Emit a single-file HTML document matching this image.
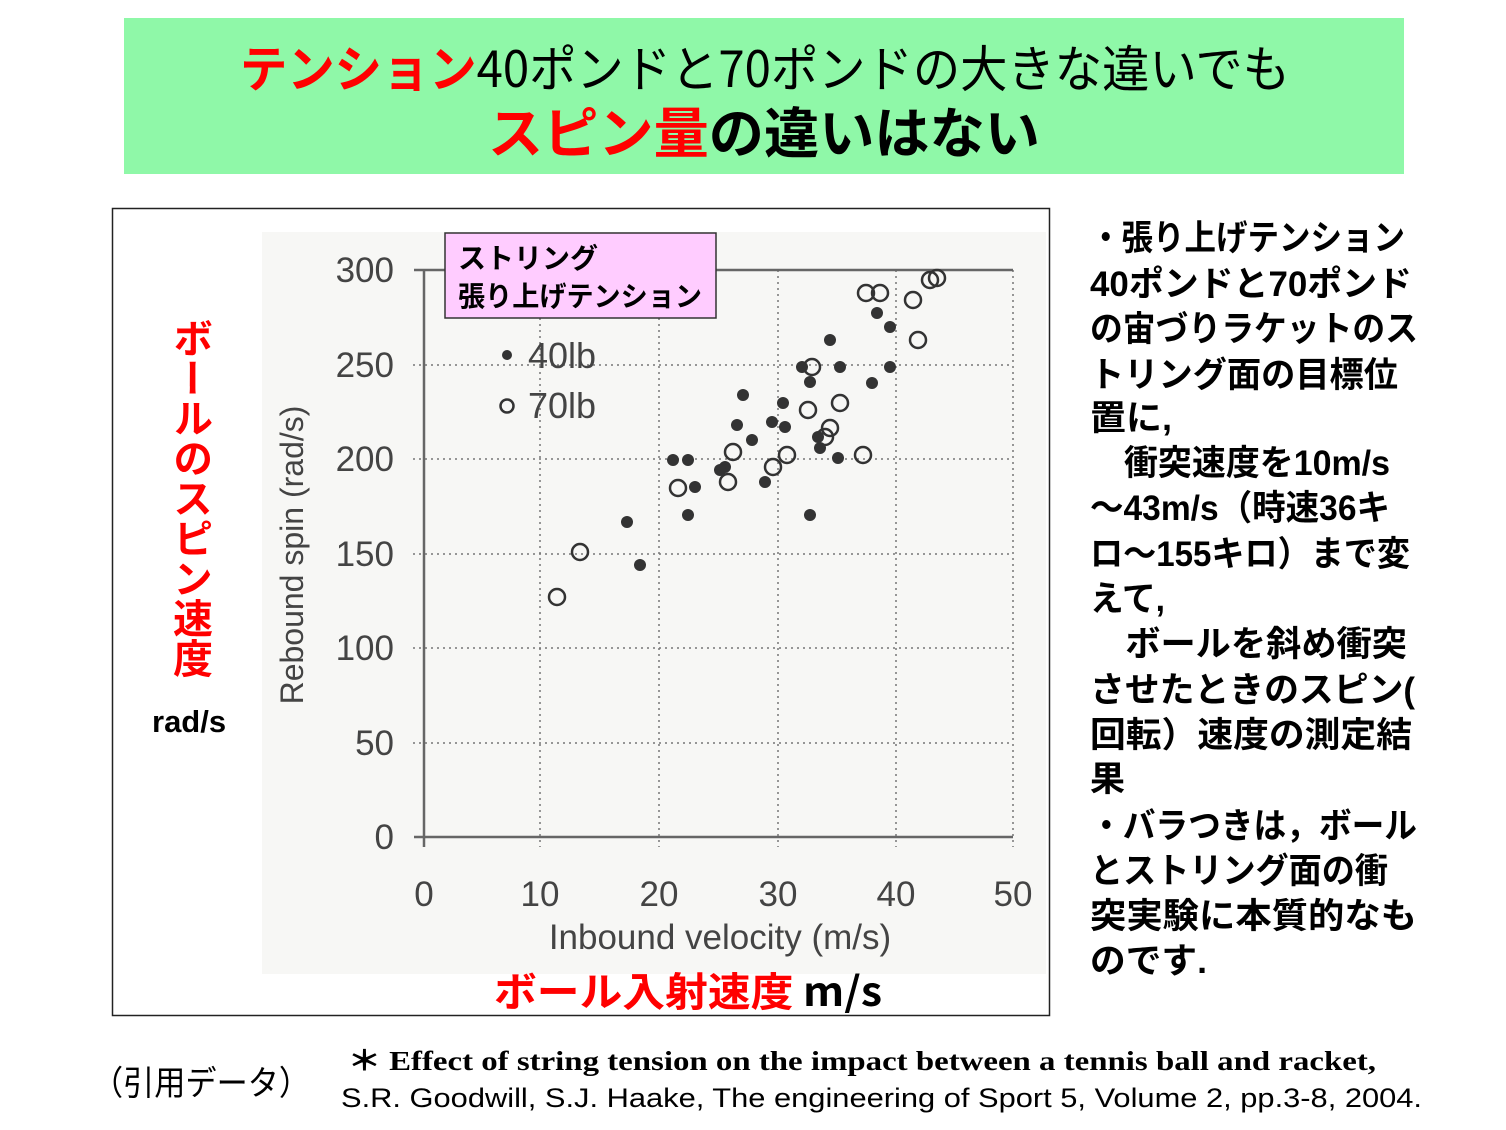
<!DOCTYPE html>
<html><head><meta charset="utf-8"><style>
html,body{margin:0;padding:0;background:#fff;}
svg{display:block;}
text{font-family:"Liberation Sans","Noto Sans CJK JP",sans-serif;}
.jp{font-family:"Noto Sans CJK JP","Liberation Sans",sans-serif;}
</style></head><body>
<svg width="1506" height="1130" viewBox="0 0 1506 1130" xmlns="http://www.w3.org/2000/svg">
<rect x="124" y="18" width="1280" height="156" fill="#8ff8a8"/>
<text x="240" y="87" font-size="50" class="jp" textLength="1050" lengthAdjust="spacingAndGlyphs"><tspan fill="#f00" font-weight="bold">テンション</tspan><tspan fill="#000">40ポンドと70ポンドの大きな違いでも</tspan></text>
<text x="488" y="153" font-size="55" class="jp" font-weight="bold" textLength="552" lengthAdjust="spacingAndGlyphs"><tspan fill="#f00">スピン量</tspan><tspan fill="#000">の違いはない</tspan></text>

<rect x="112.5" y="208.5" width="937" height="807" fill="#fff" stroke="#222" stroke-width="1.5"/>
<rect x="262" y="232" width="784" height="742" fill="#f7f7f5"/>
<g stroke="#777" stroke-width="1.5" stroke-dasharray="2,4">
<line x1="413" y1="365" x2="1013" y2="365"/>
<line x1="413" y1="459" x2="1013" y2="459"/>
<line x1="413" y1="554" x2="1013" y2="554"/>
<line x1="413" y1="648" x2="1013" y2="648"/>
<line x1="413" y1="743" x2="1013" y2="743"/>
<line x1="540" y1="270" x2="540" y2="847"/>
<line x1="659" y1="270" x2="659" y2="847"/>
<line x1="778" y1="270" x2="778" y2="847"/>
<line x1="896" y1="270" x2="896" y2="847"/>
<line x1="1013" y1="270" x2="1013" y2="847"/>
</g>
<g stroke="#666" stroke-width="2.5">
<line x1="424" y1="270" x2="424" y2="847"/>
<line x1="414" y1="837" x2="1013" y2="837"/>
<line x1="414" y1="270" x2="1013" y2="270"/>
</g>
<g fill="#444" font-size="35" text-anchor="end">
<text x="394" y="282">300</text><text x="394" y="377">250</text><text x="394" y="471">200</text>
<text x="394" y="566">150</text><text x="394" y="660">100</text><text x="394" y="755">50</text><text x="394" y="849">0</text>
</g>
<g fill="#444" font-size="35" text-anchor="middle">
<text x="424" y="906">0</text><text x="540" y="906">10</text><text x="659" y="906">20</text>
<text x="778" y="906">30</text><text x="896" y="906">40</text><text x="1013" y="906">50</text>
</g>
<text x="720" y="949" fill="#444" font-size="35" text-anchor="middle">Inbound velocity (m/s)</text>
<text transform="translate(303,555) rotate(-90)" fill="#444" font-size="32" text-anchor="middle">Rebound spin (rad/s)</text>

<rect x="445" y="233" width="271" height="85" fill="#ffccff" stroke="#333" stroke-width="1.5"/>
<text x="458" y="268" font-size="28" class="jp" font-weight="bold">ストリング</text>
<text x="458" y="306" font-size="28" class="jp" font-weight="bold" textLength="244" lengthAdjust="spacingAndGlyphs">張り上げテンション</text>

<circle cx="507" cy="355" r="5" fill="#333"/>
<text x="528" y="368" fill="#444" font-size="36">40lb</text>
<circle cx="507" cy="406" r="6.5" fill="none" stroke="#333" stroke-width="2.5"/>
<text x="528" y="418" fill="#444" font-size="36">70lb</text>

<g fill="#333">
<circle cx="830" cy="340" r="6"/><circle cx="877" cy="313" r="6"/><circle cx="890" cy="327" r="6"/>
<circle cx="840" cy="367" r="6"/><circle cx="802" cy="367" r="6"/><circle cx="810" cy="382" r="6"/>
<circle cx="890" cy="367" r="6"/><circle cx="872" cy="383" r="6"/><circle cx="743" cy="395" r="6"/>
<circle cx="783" cy="403" r="6"/><circle cx="737" cy="425" r="6"/><circle cx="772" cy="422" r="6"/>
<circle cx="785" cy="427" r="6"/><circle cx="752" cy="440" r="6"/><circle cx="818" cy="437" r="6"/>
<circle cx="820" cy="448" r="6"/><circle cx="838" cy="458" r="6"/><circle cx="725" cy="467" r="6"/>
<circle cx="673" cy="460" r="6"/><circle cx="688" cy="460" r="6"/><circle cx="695" cy="487" r="6"/>
<circle cx="765" cy="482" r="6"/><circle cx="688" cy="515" r="6"/><circle cx="810" cy="515" r="6"/>
<circle cx="627" cy="522" r="6"/><circle cx="640" cy="565" r="6"/><circle cx="720" cy="470" r="6"/>
</g>
<g fill="none" stroke="#333" stroke-width="2.5">
<circle cx="866" cy="293" r="8"/><circle cx="880" cy="293" r="8"/><circle cx="937" cy="278" r="8"/>
<circle cx="930" cy="280" r="8"/><circle cx="913" cy="300" r="8"/><circle cx="918" cy="340" r="8"/>
<circle cx="812" cy="367" r="8"/><circle cx="808" cy="410" r="8"/><circle cx="840" cy="403" r="8"/>
<circle cx="830" cy="428" r="8"/><circle cx="863" cy="455" r="8"/><circle cx="787" cy="455" r="8"/>
<circle cx="773" cy="467" r="8"/><circle cx="733" cy="452" r="8"/><circle cx="728" cy="482" r="8"/>
<circle cx="678" cy="488" r="8"/><circle cx="580" cy="552" r="8"/><circle cx="557" cy="597" r="8"/>
<circle cx="825" cy="437" r="8"/>
</g>

<text x="193" y="318" fill="#f00" font-size="40" class="jp" font-weight="bold" style="writing-mode:vertical-rl">ボールのスピン速度</text>
<text x="152" y="732" font-size="31" font-weight="bold">rad/s</text>
<text x="494" y="1006" font-size="40" font-weight="bold" class="jp" textLength="388" lengthAdjust="spacingAndGlyphs"><tspan fill="#f00">ボール入射速度</tspan><tspan fill="#000"> m/s</tspan></text>

<g font-size="35" class="jp" font-weight="bold" fill="#000" lengthAdjust="spacingAndGlyphs">
<text x="1090" y="250" textLength="315" lengthAdjust="spacingAndGlyphs">・張り上げテンション</text>
<text x="1090" y="296" textLength="322" lengthAdjust="spacingAndGlyphs">40ポンドと70ポンド</text>
<text x="1090" y="341" textLength="328" lengthAdjust="spacingAndGlyphs">の宙づりラケットのス</text>
<text x="1090" y="387" textLength="308" lengthAdjust="spacingAndGlyphs">トリング面の目標位</text>
<text x="1090" y="430" textLength="82" lengthAdjust="spacingAndGlyphs">置に,</text>
<text x="1090" y="475" textLength="300" lengthAdjust="spacingAndGlyphs">　衝突速度を10m/s</text>
<text x="1090" y="520" textLength="300" lengthAdjust="spacingAndGlyphs">～43m/s（時速36キ</text>
<text x="1090" y="566" textLength="320" lengthAdjust="spacingAndGlyphs">ロ～155キロ）まで変</text>
<text x="1090" y="611" textLength="75" lengthAdjust="spacingAndGlyphs">えて,</text>
<text x="1090" y="656" textLength="317" lengthAdjust="spacingAndGlyphs">　ボールを斜め衝突</text>
<text x="1090" y="702" textLength="325" lengthAdjust="spacingAndGlyphs">させたときのスピン(</text>
<text x="1090" y="747" textLength="322" lengthAdjust="spacingAndGlyphs">回転）速度の測定結</text>
<text x="1090" y="791">果</text>
<text x="1090" y="838" textLength="327" lengthAdjust="spacingAndGlyphs">・バラつきは，ボール</text>
<text x="1090" y="883" textLength="298" lengthAdjust="spacingAndGlyphs">とストリング面の衝</text>
<text x="1090" y="928" textLength="327" lengthAdjust="spacingAndGlyphs">突実験に本質的なも</text>
<text x="1090" y="973" textLength="117" lengthAdjust="spacingAndGlyphs">のです.</text>
</g>

<text x="92" y="1095" font-size="34" class="jp" textLength="218" lengthAdjust="spacingAndGlyphs">（引用データ）</text>
<text x="348" y="1070" font-size="27" font-weight="bold" style="font-family:'Liberation Serif',serif" textLength="1028" lengthAdjust="spacingAndGlyphs">＊ Effect of string tension on the impact between a tennis ball and racket,</text>
<text x="341" y="1107" font-size="27" textLength="1081" lengthAdjust="spacingAndGlyphs">S.R. Goodwill, S.J. Haake, The engineering of Sport 5, Volume 2, pp.3-8, 2004.</text>
</svg>
</body></html>
